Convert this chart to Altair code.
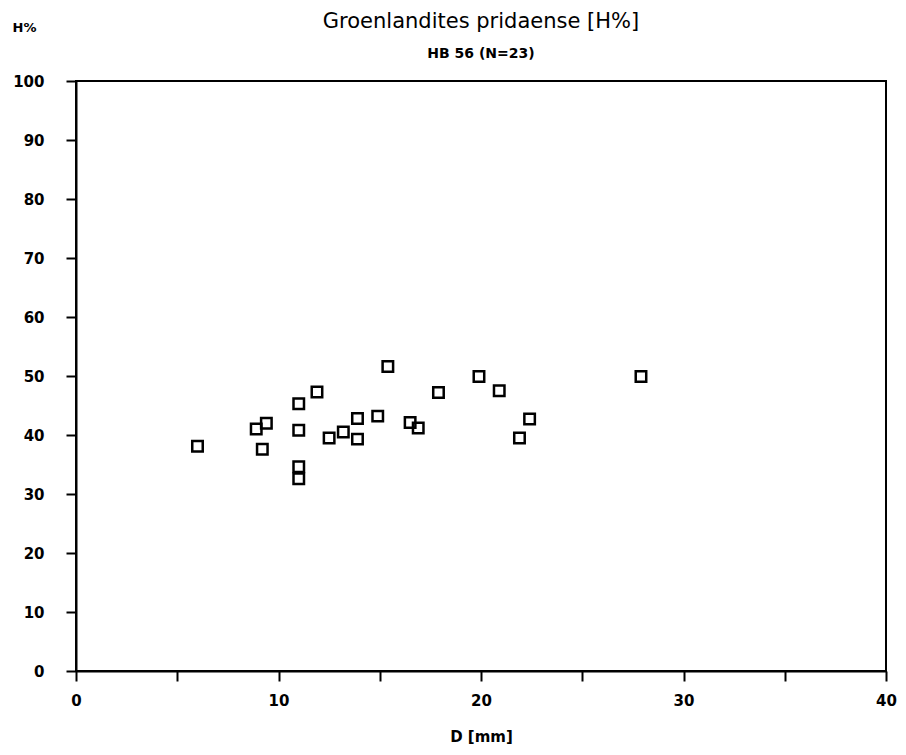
import altair as alt
import pandas as pd

D = [6, 8.9, 9.4, 9.2, 11, 11, 11, 11, 11.9, 12.5, 13.2, 13.9, 13.9, 14.9, 15.4, 16.5, 16.9, 17.9, 19.9, 20.9, 21.9, 22.4, 27.9]
H = [38.1, 41.0, 42.0, 37.6, 45.3, 40.8, 34.6, 32.6, 47.3, 39.5, 40.5, 42.8, 39.3, 43.2, 51.6, 42.1, 41.2, 47.2, 49.9, 47.5, 39.5, 42.7, 49.9]

x_ticks = [0, 5, 10, 15, 20, 25, 30, 35, 40]
y_ticks = [0, 10, 20, 30, 40, 50, 60, 70, 80, 90, 100]

df = pd.DataFrame({"D": D, "H": H})

FONT = "DejaVu Sans"

chart = alt.Chart(df).mark_point(
    shape="square", filled=False, color="black", size=110, strokeWidth=2.5, opacity=1
).encode(
    x=alt.X("D:Q", scale=alt.Scale(domain=[0, 40], nice=False),
            axis=alt.Axis(values=x_ticks, title="D [mm]",
                          labelExpr="datum.value % 10 == 0 ? datum.label : ''",
                          grid=False, domainColor="black", domainWidth=2,
                          tickColor="black", tickWidth=2, tickSize=10,
                          labelFont=FONT, labelFontWeight="bold", labelFontSize=15,
                          labelColor="black", labelPadding=12, labelFlush=False,
                          titleFont=FONT, titleFontWeight="bold", titleFontSize=15,
                          titleColor="black", titlePadding=21)),
    y=alt.Y("H:Q", scale=alt.Scale(domain=[0, 100], nice=False),
            axis=alt.Axis(values=y_ticks, title="H%",
                          grid=False, domainColor="black", domainWidth=2,
                          tickColor="black", tickWidth=2, tickSize=10,
                          labelFont=FONT, labelFontWeight="bold", labelFontSize=15,
                          labelColor="black", labelPadding=22, labelFlush=False,
                          titleFont=FONT, titleFontWeight="bold", titleFontSize=13,
                          titleColor="black", titleAngle=0, titleX=-52, titleY=-54,
                          titleAlign="center", titleBaseline="middle")),
).properties(
    width=810, height=590,
    title=alt.TitleParams(
        text="Groenlandites pridaense [H%]",
        subtitle="HB 56  (N=23)",
        font=FONT, fontSize=21, fontWeight="normal", color="black",
        subtitleFont=FONT, subtitleFontSize=14, subtitleFontWeight="bold",
        subtitleColor="black", subtitlePadding=15,
        anchor="middle", offset=0, dy=40,
    ),
    autosize=alt.AutoSizeParams(type="none"),
    padding={"left": 68, "top": 73, "right": 12, "bottom": 76},
).configure(
    background="white",
    view=alt.ViewConfig(stroke="black", strokeWidth=2),
)

chart.save("out.html", embed_options={"renderer": "svg", "actions": False})
